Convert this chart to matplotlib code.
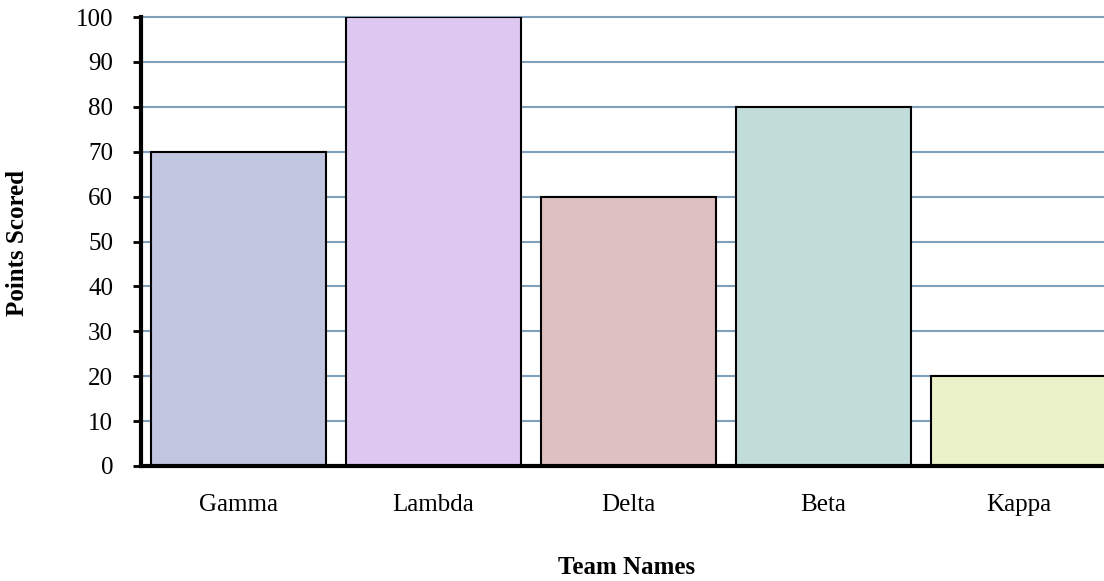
import matplotlib.pyplot as plt

teams = ["Gamma", "Lambda", "Delta", "Beta", "Kappa"]
points = [70, 100, 60, 80, 20]
colors = ["#c0c5e0", "#dcc8f0", "#dfc0c0", "#c1dcd9", "#ebf1c8"]
yticks = [0, 10, 20, 30, 40, 50, 60, 70, 80, 90, 100]

plt.rcParams["font.family"] = ["Liberation Serif", "DejaVu Serif"]

W, H = 1104, 581
fig = plt.figure(figsize=(W / 100, H / 100), dpi=100)
# axes runs past the right edge like the original
ax = fig.add_axes([141 / W, 115 / H, 975 / W, 449 / H])

x = list(range(len(teams)))
ax.bar(x, points, width=0.9, color=colors, edgecolor="black", linewidth=1.5, zorder=3)

ax.set_xlim(-0.5, len(teams) - 0.5)
ax.set_ylim(0, 100)
ax.set_yticks(yticks)
ax.set_xticks(x)
ax.set_xticklabels(teams)
ax.grid(axis="y", color="#7f9fbb", linewidth=1.5, zorder=0)
ax.set_axisbelow(True)
for gl in ax.get_ygridlines():
    gl.set_clip_on(False)

for s in ["top", "right"]:
    ax.spines[s].set_visible(False)
ax.spines["left"].set_linewidth(3)
ax.spines["bottom"].set_linewidth(3)
ax.spines["left"].set_zorder(4)
ax.spines["bottom"].set_zorder(4)

ax.tick_params(axis="y", labelsize=18, length=6, width=2, direction="out", pad=14)
ax.tick_params(axis="x", labelsize=18, length=0, pad=20.5)

fig.text(627 / W, 1 - 568 / H, "Team Names", fontsize=18, fontweight="bold",
         ha="center", va="center")
fig.text(18 / W, 1 - 243 / H, "Points Scored", fontsize=18, fontweight="bold",
         ha="center", va="center", rotation=90)

fig.savefig("out.png", dpi=100)
